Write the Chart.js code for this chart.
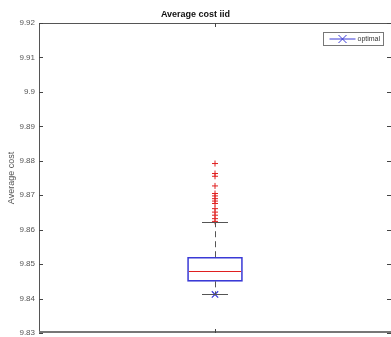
<!DOCTYPE html>
<html lang="en">
<head>
    <meta charset="UTF-8">
    <title>Average cost iid</title>
    <style>
        html, body { margin: 0; padding: 0; background: #fff; }
        #wrap { position: relative; width: 391px; height: 337px; }
    </style>
</head>
<body>
    <div id="wrap">
        <canvas id="costChart" width="391" height="337"></canvas>
    </div>

    <script src="https://cdn.jsdelivr.net/npm/chart.js"></script>
    <script>
        // values
        const categories = ['iid'];
        const boxLow = [9.8450];
        const boxHigh = [9.8520];
        const medians = [9.8480];
        const whiskerLow = [9.8412];
        const whiskerHigh = [9.8621];
        const outliers = [9.8792, 9.8763, 9.8755, 9.8727, 9.8705, 9.8698, 9.8690,
                          9.8683, 9.8676, 9.8661, 9.8651, 9.8642, 9.8632, 9.8624];
        const optimal = [9.8412];
        const yMin = 9.83, yMax = 9.92, yStep = 0.01;

        const FONT = '"Liberation Sans", Arial, sans-serif';
        const BLUE = '#3a3ad6';
        const RED = '#e02020';

        // median, whiskers, caps, frame, inward ticks and the boxed legend
        const matlabLook = {
            id: 'matlabLook',
            afterDatasetsDraw(chart) {
                const ctx = chart.ctx;
                const xs = chart.scales.x, ys = chart.scales.y;
                const a = chart.chartArea;
                ctx.save();

                categories.forEach((c, i) => {
                    const cx = xs.getPixelForValue(i);
                    const half = 27, cap = 13;
                    // median
                    ctx.strokeStyle = RED;
                    ctx.lineWidth = 1;
                    ctx.beginPath();
                    let y = Math.round(ys.getPixelForValue(medians[i])) + 0.5;
                    ctx.moveTo(cx - half + 1, y); ctx.lineTo(cx + half - 1, y);
                    ctx.stroke();
                    // whiskers
                    ctx.strokeStyle = '#555';
                    ctx.setLineDash([6, 4]);
                    ctx.beginPath();
                    const x0 = Math.round(cx) + 0.5;
                    ctx.moveTo(x0, ys.getPixelForValue(boxHigh[i]));
                    ctx.lineTo(x0, ys.getPixelForValue(whiskerHigh[i]));
                    ctx.moveTo(x0, ys.getPixelForValue(boxLow[i]));
                    ctx.lineTo(x0, ys.getPixelForValue(whiskerLow[i]));
                    ctx.stroke();
                    ctx.setLineDash([]);
                    // caps
                    ctx.beginPath();
                    [whiskerHigh[i], whiskerLow[i]].forEach(v => {
                        const yy = Math.round(ys.getPixelForValue(v)) + 0.5;
                        ctx.moveTo(cx - cap, yy); ctx.lineTo(cx + cap, yy);
                    });
                    ctx.stroke();
                });

                // frame
                ctx.strokeStyle = '#555';
                ctx.lineWidth = 1;
                ctx.beginPath();
                ctx.moveTo(a.left + 0.5, a.bottom);
                ctx.lineTo(a.left + 0.5, a.top + 0.5);
                ctx.lineTo(a.right, a.top + 0.5);
                ctx.stroke();
                ctx.strokeStyle = '#777';
                ctx.lineWidth = 2;
                ctx.beginPath();
                ctx.moveTo(a.left, a.bottom - 1);
                ctx.lineTo(a.right, a.bottom - 1);
                ctx.stroke();

                // ticks pointing inwards
                ctx.strokeStyle = '#444';
                ctx.lineWidth = 1;
                ctx.beginPath();
                ys.ticks.forEach(t => {
                    const yy = Math.round(ys.getPixelForValue(t.value)) + 0.5;
                    ctx.moveTo(a.left, yy); ctx.lineTo(a.left + 4, yy);
                    ctx.moveTo(a.right - 4, yy); ctx.lineTo(a.right, yy);
                });
                const tx = Math.round(xs.getPixelForValue(0)) + 0.5;
                ctx.moveTo(tx, a.top); ctx.lineTo(tx, a.top + 4);
                ctx.moveTo(tx, a.bottom); ctx.lineTo(tx, a.bottom - 4);
                ctx.stroke();

                // legend
                const lx = 323.5, ly = 32.5, lw = 60, lh = 13;
                ctx.strokeStyle = '#777';
                ctx.strokeRect(lx, ly, lw, lh);
                const my = ly + lh / 2;
                ctx.strokeStyle = BLUE;
                ctx.beginPath();
                ctx.moveTo(lx + 6, my); ctx.lineTo(lx + 32, my);
                ctx.moveTo(lx + 15, my - 4); ctx.lineTo(lx + 23, my + 4);
                ctx.moveTo(lx + 15, my + 4); ctx.lineTo(lx + 23, my - 4);
                ctx.stroke();
                ctx.fillStyle = '#333';
                ctx.font = '7px ' + FONT;
                ctx.textBaseline = 'middle';
                ctx.fillText('optimal', lx + 34, my);
                ctx.restore();
            }
        };

        new Chart(document.getElementById('costChart').getContext('2d'), {
            type: 'bar',
            data: {
                labels: categories,
                datasets: [
                    {
                        label: 'box',
                        data: categories.map((c, i) => [boxLow[i], boxHigh[i]]),
                        backgroundColor: 'rgba(0,0,0,0)',
                        borderColor: BLUE,
                        borderWidth: 1,
                        borderSkipped: false,
                        barThickness: 55,
                        order: 2
                    },
                    {
                        type: 'scatter',
                        label: 'outliers',
                        data: outliers.map(v => ({ x: categories[0], y: v })),
                        pointStyle: 'cross',
                        pointRadius: 3,
                        borderColor: RED,
                        borderWidth: 1,
                        order: 1
                    },
                    {
                        type: 'scatter',
                        label: 'optimal',
                        data: optimal.map(v => ({ x: categories[0], y: v })),
                        pointStyle: 'crossRot',
                        pointRadius: 4.5,
                        borderColor: BLUE,
                        borderWidth: 1.2,
                        order: 0
                    }
                ]
            },
            options: {
                responsive: false,
                animation: false,
                layout: { autoPadding: false, padding: { left: 0, right: 0, top: 0, bottom: 4 } },
                plugins: {
                    legend: { display: false },
                    tooltip: { enabled: false },
                    title: {
                        display: true,
                        text: 'Average cost iid',
                        color: '#111',
                        font: { family: FONT, size: 9, weight: 'bold', lineHeight: '11px' },
                        padding: { top: 9, bottom: 3 }
                    }
                },
                scales: {
                    x: {
                        type: 'category',
                        offset: true,
                        ticks: { display: false },
                        grid: { display: false, drawTicks: false },
                        border: { display: false },
                        afterFit: s => {
                            s.height = 0;
                            s.paddingLeft = 0; s.paddingRight = 0;
                            s.paddingTop = 0; s.paddingBottom = 0;
                        }
                    },
                    y: {
                        min: yMin,
                        max: yMax,
                        ticks: {
                            stepSize: yStep,
                            padding: 4,
                            color: '#555',
                            font: { family: FONT, size: 8 },
                            callback: v => String(Number(v.toFixed(2)))
                        },
                        grid: { display: false, drawTicks: false },
                        border: { display: false },
                        title: {
                            display: true,
                            text: 'Average cost',
                            color: '#555',
                            font: { family: FONT, size: 9 },
                            padding: { top: 6, bottom: 0 }
                        },
                        afterFit: s => {
                            s.width = 39;
                            s.paddingTop = 0; s.paddingBottom = 0;
                            s.paddingLeft = 0; s.paddingRight = 0;
                        }
                    }
                }
            },
            plugins: [matlabLook]
        });
    </script>
</body>
</html>
